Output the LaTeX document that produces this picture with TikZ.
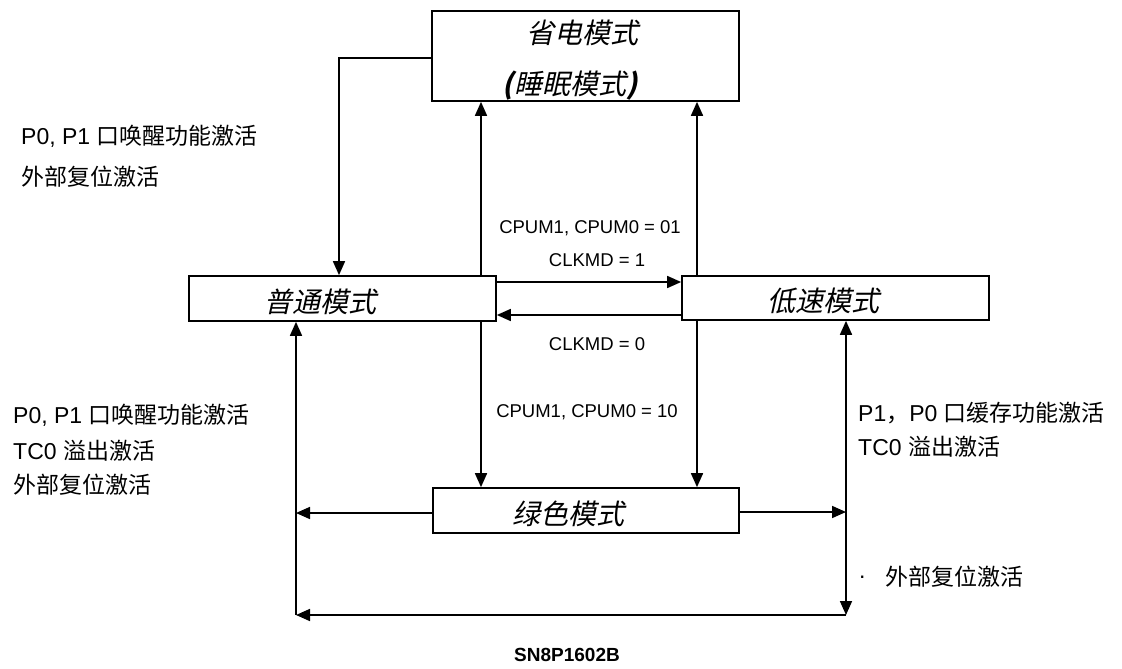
\documentclass[tikz,border=0pt]{standalone}
\usepackage{fontspec}
\setmainfont{Liberation Sans}
\newfontfamily\cjk{Noto Sans CJK SC}
\newfontfamily\cjkit{Noto Sans CJK SC}[FakeSlant=0.22]
\usetikzlibrary{arrows.meta}
\begin{document}
\begin{tikzpicture}[x=1pt,y=-1pt,
  modebox/.style={draw, line width=1.7pt, inner sep=0pt},
  boxtext/.style={inner sep=0pt, font=\fontsize{28}{31}\selectfont\cjkit},
  lbl/.style={inner sep=0pt, anchor=west, font=\fontsize{23}{27}\selectfont},
  mid/.style={inner sep=0pt, font=\fontsize{18.5}{22}\selectfont},
  wire/.style={line width=1.7pt},
  arr/.style={wire, -{Triangle[length=14pt,width=12pt]}}]
\useasboundingbox (0,0) rectangle (1122,669);
% boxes
\node[modebox, minimum width=307pt, minimum height=90pt] (top) at (585.5,56) {};
\node[modebox, minimum width=307pt, minimum height=45pt] (normal) at (342.5,298.5) {};
\node[modebox, minimum width=307pt, minimum height=44pt] (low) at (835.5,298) {};
\node[modebox, minimum width=306pt, minimum height=45pt] (green) at (586,510.5) {};
% box texts
\node[boxtext] (topt1) at (582,33) {省电模式};
\node[boxtext] (topt2) at (570,86) {\textbf{\textit{(}}睡眠模式\textbf{\textit{)}}};
\node[boxtext] (normalt) at (320,302) {普通模式};
\node[boxtext] (lowt) at (823,301) {低速模式};
\node[boxtext] (greent) at (568,514) {绿色模式};
% helper coordinates
\coordinate (tl) at (339,58);
\coordinate (xa) at (481,0);
\coordinate (xb) at (697,0);
\coordinate (xl) at (296,0);
\coordinate (xr) at (846,0);
\coordinate (y1) at (0,282);
\coordinate (y2) at (0,315);
\coordinate (gl) at (0,513);
\coordinate (gr) at (0,512);
\coordinate (br) at (846,615);
\coordinate (bl) at (296,615);
% connectors
\draw[arr] (top.west |- tl) -- (tl) -- (tl |- normal.north);
\draw[arr] (xa |- normal.north) -- (xa |- top.south);
\draw[arr] (xb |- low.north) -- (xb |- top.south);
\draw[arr] (normal.east |- y1) -- (low.west |- y1);
\draw[arr] (low.west |- y2) -- (normal.east |- y2);
\draw[arr] (xa |- normal.south) -- (xa |- green.north);
\draw[arr] (xb |- low.south) -- (xb |- green.north);
\draw[arr] (green.west |- gl) -- (xl |- gl);
\draw[arr] (green.east |- gr) -- (xr |- gr);
\draw[arr] (xr |- gr) -- (xr |- low.south);
\draw[arr] (xr |- gr) -- (br);
\draw[arr] (br) -- (bl);
\draw[arr] (bl) -- (xl |- normal.south);
% labels
\node[lbl] (l1) at (21,136) {P0, P1 {\cjk 口唤醒功能激活}};
\node[lbl] (l2) at (21,177) {\cjk 外部复位激活};
\node[lbl] (l3) at (13,415) {P0, P1 {\cjk 口唤醒功能激活}};
\node[lbl] (l4) at (13,451) {TC0 {\cjk 溢出激活}};
\node[lbl] (l5) at (13,485) {\cjk 外部复位激活};
\node[lbl] (r1) at (858,413) {P1{\cjk ，}P0 {\cjk 口缓存功能激活}};
\node[lbl] (r2) at (858,447) {TC0 {\cjk 溢出激活}};
\node[lbl] (r3) at (859,577) {.};
\node[lbl] (r4) at (885,577) {\cjk 外部复位激活};
\node[mid] (m1) at (590,228) {CPUM1, CPUM0 = 01};
\node[mid] (m2) at (597,260) {CLKMD = 1};
\node[mid] (m3) at (597,344) {CLKMD = 0};
\node[mid] (m4) at (587,412) {CPUM1, CPUM0 = 10};
\node[inner sep=0pt, font=\fontsize{19}{22}\selectfont\bfseries] (title) at (567,655) {SN8P1602B};
\end{tikzpicture}
\end{document}
